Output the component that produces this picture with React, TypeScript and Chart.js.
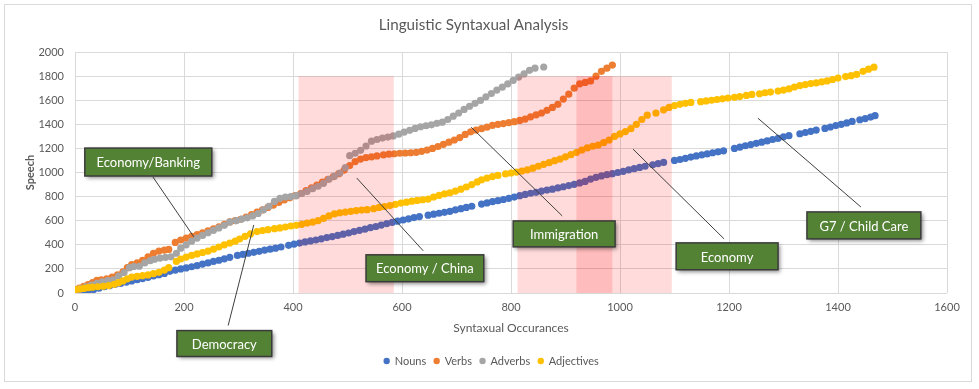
import React, { useEffect, useRef } from "react";
import { Chart, registerables } from "chart.js";

Chart.register(...registerables);

// ---------- data ----------
const seriesNames = ["Nouns", "Verbs", "Adverbs", "Adjectives"];
const seriesColors = ["#4472C4", "#ED7D31", "#A5A5A5", "#FFC000"];

const xTickStep = 200;
const yTickStep = 200;

const nouns: [number, number][] = [
  [0, 0], [8, 6], [16, 12], [24, 18], [34, 28], [44, 40], [54, 52], [64, 62], [74, 72], [84, 80],
  [94, 90], [104, 100], [114, 110], [124, 120], [134, 130], [144, 142], [154, 152], [164, 162],
  [174, 180], [184, 190], [194, 200], [204, 208], [214, 218], [224, 228], [234, 240], [244, 250],
  [254, 262], [264, 272], [274, 284], [284, 296], [298, 312], [308, 320], [318, 330], [328, 338],
  [338, 346], [348, 356], [358, 364], [368, 372], [378, 382], [392, 396], [402, 406], [412, 414],
  [422, 424], [432, 432], [442, 440], [452, 450], [462, 460], [472, 468], [482, 478], [492, 488],
  [502, 498], [512, 510], [522, 520], [532, 530], [542, 542], [552, 552], [562, 564], [572, 576],
  [582, 586], [592, 596], [602, 606], [612, 616], [622, 626], [632, 634], [648, 646], [658, 654],
  [668, 662], [678, 670], [688, 678], [698, 690], [708, 700], [718, 710], [728, 720], [746, 738],
  [756, 748], [766, 758], [776, 766], [786, 776], [796, 786], [806, 796], [816, 808], [826, 818],
  [836, 828], [846, 836], [856, 846], [866, 854], [876, 862], [886, 872], [896, 882], [906, 892],
  [916, 902], [926, 914], [936, 926], [946, 946], [956, 960], [966, 972], [976, 982], [986, 990],
  [996, 1000], [1006, 1010], [1016, 1022], [1026, 1032], [1036, 1042], [1046, 1052], [1060, 1064],
  [1070, 1074], [1080, 1084], [1100, 1100], [1110, 1108], [1120, 1118], [1130, 1128], [1140, 1138],
  [1150, 1146], [1160, 1154], [1170, 1164], [1180, 1172], [1190, 1180], [1210, 1200], [1220, 1210],
  [1230, 1222], [1240, 1232], [1250, 1242], [1260, 1252], [1270, 1262], [1280, 1274], [1290, 1284],
  [1300, 1296], [1310, 1306], [1330, 1322], [1340, 1332], [1350, 1342], [1360, 1352], [1376, 1366],
  [1386, 1378], [1396, 1390], [1406, 1400], [1416, 1412], [1426, 1424], [1440, 1438], [1450, 1448],
  [1460, 1460], [1468, 1472],
];

const verbs: [number, number][] = [
  [0, 27], [8, 40], [16, 56], [24, 70], [32, 86], [40, 104], [48, 110], [58, 118], [68, 132],
  [78, 150], [88, 176], [96, 210], [104, 236], [114, 250], [124, 270], [134, 300], [144, 330],
  [154, 348], [164, 356], [172, 362], [184, 420], [194, 440], [204, 456], [214, 470], [224, 484],
  [234, 500], [244, 516], [254, 532], [264, 550], [274, 570], [284, 590], [294, 600], [304, 612],
  [314, 630], [324, 650], [334, 672], [344, 690], [354, 710], [364, 730], [374, 752], [384, 772],
  [394, 790], [404, 808], [414, 826], [424, 850], [434, 872], [444, 896], [454, 920], [464, 944],
  [474, 966], [484, 990], [494, 1020], [504, 1058], [514, 1090], [524, 1112], [534, 1124],
  [544, 1130], [554, 1138], [566, 1146], [576, 1152], [586, 1156], [596, 1160], [606, 1162],
  [616, 1164], [626, 1168], [636, 1176], [646, 1186], [656, 1200], [666, 1216], [676, 1234],
  [686, 1252], [696, 1270], [706, 1290], [716, 1316], [726, 1338], [736, 1352], [746, 1364],
  [756, 1376], [766, 1392], [776, 1400], [786, 1406], [796, 1414], [806, 1422], [816, 1432],
  [826, 1444], [836, 1462], [846, 1478], [856, 1494], [866, 1516], [876, 1540], [886, 1566],
  [896, 1610], [906, 1650], [916, 1700], [926, 1736], [936, 1748], [946, 1760], [956, 1800],
  [966, 1840], [976, 1866], [986, 1892],
];

const adverbs: [number, number][] = [
  [0, 20], [10, 36], [20, 52], [30, 66], [40, 80], [50, 92], [60, 102], [70, 110], [80, 140],
  [90, 170], [100, 210], [108, 220], [118, 222], [128, 250], [138, 268], [146, 280], [156, 290],
  [166, 296], [176, 300], [186, 330], [194, 372], [204, 400], [214, 430], [224, 456], [234, 478],
  [244, 500], [254, 520], [264, 540], [274, 562], [284, 590], [296, 600], [306, 614], [316, 624],
  [326, 640], [336, 660], [346, 690], [356, 720], [366, 760], [376, 786], [386, 796], [396, 800],
  [406, 808], [416, 826], [426, 844], [436, 866], [446, 886], [456, 910], [466, 944], [476, 970],
  [486, 996], [496, 1040], [504, 1140], [514, 1160], [524, 1184], [534, 1220], [544, 1260],
  [554, 1274], [564, 1286], [574, 1294], [584, 1304], [594, 1318], [604, 1336], [614, 1350],
  [624, 1366], [634, 1380], [644, 1388], [654, 1396], [664, 1408], [674, 1418], [684, 1440],
  [694, 1468], [704, 1494], [714, 1524], [724, 1550], [734, 1574], [744, 1598], [754, 1628],
  [764, 1656], [774, 1684], [784, 1708], [794, 1736], [804, 1764], [814, 1792], [824, 1818],
  [834, 1848], [844, 1866], [860, 1876],
];

const adjectives: [number, number][] = [
  [0, 27], [8, 32], [16, 38], [24, 44], [32, 48], [42, 52], [52, 56], [62, 62], [72, 72], [80, 86],
  [88, 100], [96, 118], [104, 132], [114, 138], [124, 144], [134, 150], [144, 160], [154, 172],
  [164, 190], [172, 210], [186, 262], [194, 282], [204, 298], [214, 312], [224, 324], [234, 336],
  [244, 348], [254, 364], [264, 382], [274, 400], [284, 414], [294, 430], [302, 448], [312, 470],
  [322, 490], [334, 510], [344, 518], [354, 526], [366, 534], [376, 540], [386, 548], [396, 556],
  [406, 562], [416, 570], [426, 580], [436, 588], [446, 600], [456, 620], [466, 640], [476, 656],
  [486, 666], [496, 672], [506, 678], [516, 684], [526, 688], [536, 692], [548, 700], [558, 710],
  [568, 718], [578, 726], [588, 736], [598, 746], [608, 754], [618, 762], [628, 768], [638, 774],
  [648, 780], [658, 796], [668, 810], [678, 822], [688, 832], [698, 846], [708, 862], [718, 880],
  [728, 900], [738, 922], [746, 940], [756, 954], [766, 966], [776, 976], [790, 988], [800, 996],
  [810, 1004], [820, 1012], [830, 1022], [840, 1036], [850, 1052], [860, 1068], [870, 1082],
  [880, 1098], [890, 1112], [900, 1130], [910, 1148], [920, 1166], [930, 1186], [940, 1204],
  [950, 1218], [960, 1228], [970, 1248], [980, 1270], [990, 1300], [1000, 1320], [1010, 1340],
  [1020, 1364], [1030, 1400], [1040, 1440], [1050, 1476], [1066, 1494], [1080, 1520], [1090, 1540],
  [1100, 1556], [1110, 1566], [1120, 1574], [1130, 1582], [1148, 1588], [1158, 1594], [1168, 1600],
  [1178, 1606], [1188, 1612], [1198, 1618], [1210, 1624], [1220, 1630], [1232, 1640], [1242, 1648],
  [1256, 1654], [1266, 1662], [1276, 1668], [1290, 1676], [1300, 1684], [1310, 1694], [1320, 1710],
  [1330, 1722], [1340, 1730], [1350, 1738], [1360, 1744], [1370, 1752], [1380, 1760], [1390, 1772],
  [1400, 1784], [1414, 1796], [1424, 1804], [1434, 1814], [1446, 1840], [1456, 1858], [1466, 1874],
];

// shaded topic ranges on the x axis (from, to) and their top value
const shadedRanges: [number, number][] = [[410, 585], [812, 986], [920, 1095]];
const shadedTop = 1800;

// callout labels
const calloutTexts = ["Economy/Banking", "Democracy", "Economy / China", "Immigration", "Economy", "G7 / Child Care"];
// box corners [x1, y1, x2, y2] and leader line [fromX, fromY, toX, toY], in data units
const calloutBoxes: [number, number, number, number][] = [
  [18, 1203, 251, 971],
  [187, -312, 361, -527],
  [534, 317, 750, 94],
  [804, 598, 991, 383],
  [1103, 416, 1290, 193],
  [1343, 673, 1552, 449],
];
const calloutLines: [number, number, number, number][] = [
  [143, 963, 218, 466],
  [281, -270, 328, 565],
  [517, 954, 639, 350],
  [727, 1376, 894, 640],
  [1024, 1194, 1191, 449],
  [1253, 1451, 1442, 714],
];

const FONT = "Lato, 'Open Sans', sans-serif";
const TEXT_COLOR = "#595959";
const GRID_COLOR = "#D9D9D9";

const framePlugin = {
  id: "frame",
  beforeDraw(chart: any) {
    const { ctx, width, height } = chart;
    ctx.save();
    ctx.fillStyle = "#ffffff";
    ctx.fillRect(0, 0, width, height);
    ctx.strokeStyle = "#D9D9D9";
    ctx.lineWidth = 1;
    ctx.strokeRect(4.5, 4.5, 967, 377);
    ctx.restore();
  },
  afterLayout(chart: any) {
    // the reference legend sits a little right of the canvas centre
    if (chart.legend) {
      chart.legend.left += 18;
      chart.legend.right += 18;
    }
  },
};

const calloutPlugin = {
  id: "callouts",
  afterDatasetsDraw(chart: any) {
    const { ctx } = chart;
    const xs = chart.scales.x;
    const ys = chart.scales.y;
    const px = (v: number) => xs.getPixelForValue(v);
    const py = (v: number) => ys.getPixelForValue(v);
    ctx.save();
    // shaded regions
    ctx.fillStyle = "rgba(255, 0, 0, 0.14)";
    shadedRanges.forEach(([a, b]) => {
      const x1 = px(a), x2 = px(b), y1 = py(shadedTop), y2 = py(0);
      ctx.fillRect(x1, y1, x2 - x1, y2 - y1);
    });
    // leader lines
    ctx.strokeStyle = "#404040";
    ctx.lineWidth = 1;
    calloutLines.forEach(([a, b, c, d]) => {
      ctx.beginPath();
      ctx.moveTo(px(a), py(b));
      ctx.lineTo(px(c), py(d));
      ctx.stroke();
    });
    // boxes
    calloutBoxes.forEach(([a, b, c, d], i) => {
      const x1 = px(a), y1 = py(b), x2 = px(c), y2 = py(d);
      ctx.save();
      ctx.shadowColor = "rgba(0,0,0,0.45)";
      ctx.shadowBlur = 4;
      ctx.shadowOffsetX = 2;
      ctx.shadowOffsetY = 2;
      ctx.fillStyle = "#548235";
      ctx.fillRect(x1, y1, x2 - x1, y2 - y1);
      ctx.restore();
      ctx.strokeStyle = "#3B3B3B";
      ctx.lineWidth = 1.5;
      ctx.strokeRect(x1, y1, x2 - x1, y2 - y1);
      ctx.fillStyle = "#ffffff";
      ctx.font = `13px ${FONT}`;
      ctx.textAlign = "center";
      ctx.textBaseline = "middle";
      ctx.fillText(calloutTexts[i], (x1 + x2) / 2, (y1 + y2) / 2 + 1);
    });
    ctx.restore();
  },
};

export default function App() {
  const canvasRef = useRef<HTMLCanvasElement | null>(null);

  useEffect(() => {
    if (!canvasRef.current) return;
    const allSeries = [nouns, verbs, adverbs, adjectives];
    const chart = new Chart(canvasRef.current, {
      type: "scatter",
      data: {
        datasets: allSeries.map((s, i) => ({
          label: seriesNames[i],
          data: s.map(([x, y]) => ({ x, y })),
          backgroundColor: seriesColors[i],
          borderColor: seriesColors[i],
          borderWidth: 0,
          pointRadius: 3.6,
          pointHoverRadius: 3.6,
          order: allSeries.length - 1 - i,
        })),
      },
      options: {
        animation: false,
        responsive: true,
        maintainAspectRatio: false,
        layout: { padding: { left: 0, right: 32, top: 0, bottom: 12.5 } },
        plugins: {
          tooltip: { enabled: false },
          title: {
            display: true,
            text: "Linguistic Syntaxual Analysis",
            color: TEXT_COLOR,
            font: { family: FONT, size: 15.2, weight: "normal" },
            padding: { top: 16, bottom: 17.8 },
          },
          legend: {
            display: true,
            position: "bottom",
            labels: {
              usePointStyle: true,
              pointStyle: "circle",
              boxWidth: 5,
              boxHeight: 4.5,
              padding: 8,
              color: TEXT_COLOR,
              font: { family: FONT, size: 11 },
              sort: (a: any, b: any) => a.datasetIndex - b.datasetIndex,
            },
          },
        },
        scales: {
          x: {
            type: "linear",
            min: 0,
            max: 1600,
            ticks: {
              stepSize: xTickStep,
              color: TEXT_COLOR,
              font: { family: FONT, size: 11 },
              padding: 8,
              callback: (v: any) => String(v),
            },
            grid: { color: GRID_COLOR, drawTicks: false },
            border: { display: false },
            title: {
              display: true,
              text: "Syntaxual Occurances",
              color: TEXT_COLOR,
              font: { family: FONT, size: 12 },
              padding: { top: 0, bottom: 12.3 },
            },
            afterFit: (s: any) => {
              s.height = 54.5;
            },
          },
          y: {
            type: "linear",
            min: 0,
            max: 2000,
            ticks: {
              stepSize: yTickStep,
              color: TEXT_COLOR,
              font: { family: FONT, size: 11 },
              padding: 11,
              callback: (v: any) => String(v),
            },
            grid: { color: GRID_COLOR, drawTicks: false },
            border: { display: false },
            title: {
              display: true,
              text: "Speech",
              color: TEXT_COLOR,
              font: { family: FONT, size: 11, weight: "bold" },
              padding: { top: 23.4, bottom: 0 },
            },
            afterFit: (s: any) => {
              s.width = 75;
            },
          },
        },
      },
      plugins: [framePlugin, calloutPlugin],
    });
    return () => chart.destroy();
  }, []);

  return (
    <div style={{ position: "absolute", left: 0, top: 0, width: 979, height: 389 }}>
      <canvas ref={canvasRef} />
    </div>
  );
}
